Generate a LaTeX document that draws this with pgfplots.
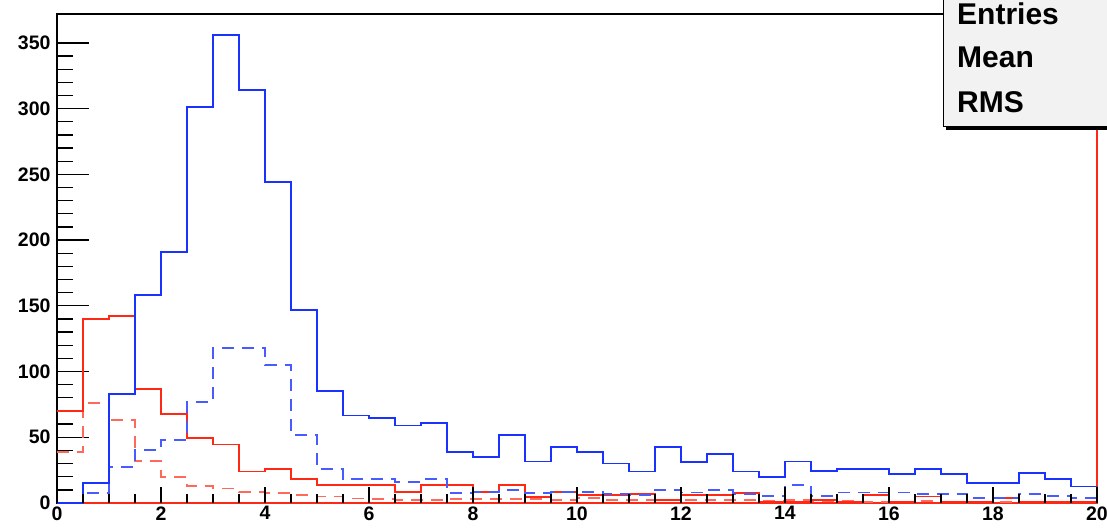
\documentclass[border=0pt]{standalone}
\usepackage{fontspec}
\setmainfont{Liberation Sans}
\usepackage{pgfplots}
\pgfplotsset{compat=1.18}
\usepackage{pgfplotstable}
\definecolor{rblue}{RGB}{25,50,255}
\definecolor{rred}{RGB}{255,40,20}

\pgfplotstableread{
x    bs    bd    rs    rd
0    0     0     70    38.5
0.5  15    7.5   140   76
1    83    27.5  142   63
1.5  158   40.5  87    32
2    191   48    68    20
2.5  301   77    49.5  13
3    356   118   44.5  11
3.5  314   118   24    8.5
4    244   105   26    7.5
4.5  147   52    18.5  6
5    85    26    13.5  5
5.5  66.5  18.5  13.5  3.5
6    64.5  18.5  13.5  3
6.5  59    16    8.5   2.5
7    61    18.5  13.5  2.5
7.5  39    7.5   13.5  3
8    35    8.5   8.5   3
8.5  52    10    13.5  3
9    31.5  7.5   4.5   3
9.5  42.5  8.5   8.5   2.5
10   39    8.5   6     4
10.5 30    7     6     2.5
11   24    6     7     2.5
11.5 42.5  10    2.5   2
12   31    8     6     2.5
12.5 37    10    6     2
13   24    7     7.5   2
13.5 20    5.5   0.5   1.5
14   31.5  13.5  1     2
14.5 24.5  5.5   2.5   1.5
15   26    8     0.5   1.5
15.5 26    8     6     1
16   22    8     0.5   1
16.5 26    7     5     1.5
17   22    7     0.5   1
17.5 15    4     0.5   1
18   15    4     4     1
18.5 23    7     0.5   1
19   18.5  5.5   0.5   1
19.5 12.5  4     0.5   1
20   12.5  4     0.5   1
}\hist

\begin{document}
\begin{tikzpicture}
\begin{axis}[
  at={(0pt,0pt)}, anchor=south west,
  scale only axis, width=1040pt, height=489pt,
  xmin=0, xmax=20, ymin=0, ymax=372,
  clip=false,
  axis line style={line width=1.6pt, black},
  xtick=\empty,
  ytick={0,50,...,350}, minor y tick num=4,
  ytick pos=left, tick align=inside,
  major tick length=32pt, minor tick length=16pt,
  tick style={line width=1.3pt, black},
  /pgf/number format/assume math mode=true,
  yticklabel style={font=\fontsize{19.5}{20}\selectfont\bfseries, xshift=-3pt},
]
\addplot[rred, line width=1.8pt] coordinates {(0,0) (20,0) (20,372)};
\addplot[const plot, rred!70, line width=1.8pt, dash pattern=on 12pt off 8pt] table[x=x,y=rd]{\hist};
\addplot[const plot, rred, line width=1.8pt] table[x=x,y=rs]{\hist};
\addplot[const plot, rblue!80, line width=1.8pt, dash pattern=on 12pt off 8pt] table[x=x,y=bd]{\hist};
\addplot[const plot, rblue, line width=1.8pt] table[x=x,y=bs]{\hist};
\end{axis}
\begin{axis}[
  at={(0pt,0pt)}, anchor=south west,
  scale only axis, width=1040pt, height=489pt,
  xmin=0, xmax=20, ymin=0, ymax=372,
  axis line style={draw=none},
  ytick=\empty,
  xtick={0,2,...,20}, minor x tick num=3,
  xtick pos=bottom, tick align=inside,
  major tick length=16pt, minor tick length=9pt,
  tick style={line width=1.3pt, black},
  /pgf/number format/assume math mode=true,
  xticklabel style={font=\fontsize{19.5}{20}\selectfont\bfseries},
]
\addplot[draw=none] coordinates {(0,0)};
\end{axis}
% stats box
\fill[black] (889pt,373pt) rectangle (1075pt,540pt);
\filldraw[fill=black!5, draw=black, line width=1pt] (886pt,376pt) rectangle (1072pt,540pt);
\node[anchor=base west, font=\fontsize{30}{32}\selectfont\bfseries, inner sep=0pt] at (900pt,478pt) {Entries};
\node[anchor=base west, font=\fontsize{30}{32}\selectfont\bfseries, inner sep=0pt] at (900pt,435pt) {Mean};
\node[anchor=base west, font=\fontsize{30}{32}\selectfont\bfseries, inner sep=0pt] at (900pt,390pt) {RMS};
\pgfresetboundingbox
\useasboundingbox (-57pt,-24pt) rectangle (1050pt,503pt);
\end{tikzpicture}
\end{document}
